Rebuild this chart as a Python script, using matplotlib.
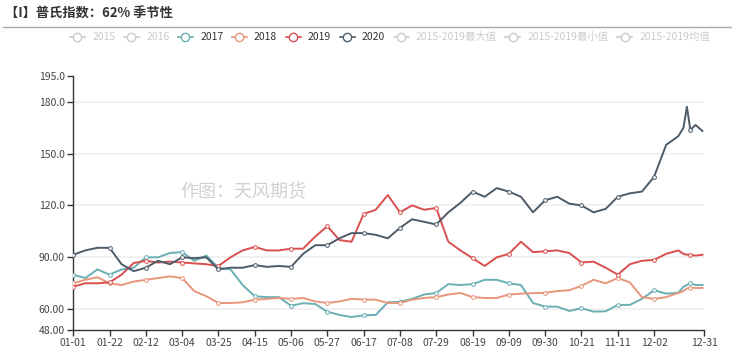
"""Seasonal chart of the Platts 62% iron ore index, 2017-2020."""

import matplotlib

matplotlib.use("Agg")
import matplotlib.pyplot as plt
import numpy as np
import pandas as pd
from matplotlib.lines import Line2D

plt.rcParams["font.family"] = ["Noto Sans CJK SC", "DejaVu Sans"]

# day of year (0 = 01-01), weekly samples plus a few extra near the year end
days = [0, 7, 14, 21, 28, 35, 42, 49, 56, 63, 70, 77, 84, 91, 98, 105, 112,
        119, 126, 133, 140, 147, 154, 161, 168, 175, 182, 189, 196, 203, 210,
        217, 224, 231, 238, 245, 252, 259, 266, 273, 280, 287, 294, 301, 308,
        315, 322, 329, 336, 343, 350, 353, 355, 357, 360, 364]

values_2017 = [80, 78, 83, 80, 83, 84, 90, 90, 92.5, 93, 88, 91, 84, 83, 74,
               67.5, 67, 67, 62, 63.5, 63, 58.6, 56.7, 55.5, 56.5, 56.7, 64,
               64.3, 66, 68.5, 69.4, 74.5, 74, 74.5, 77, 77, 75, 74, 63.6, 61.5,
               61.5, 59, 60.6, 58.6, 58.8, 62.5, 62.5, 66, 71, 69, 69.5, 73, 74,
               75, 74, 74]
values_2018 = [75, 77, 78.5, 75, 74, 76, 77, 78, 79, 78, 70.5, 67.5, 63.6, 63.6,
               64, 65.5, 66, 66.5, 66, 66.5, 64.5, 63.6, 64.5, 66, 65.6, 65.5,
               63.6, 63.6, 65.5, 66.5, 67, 68.5, 69.4, 67, 66.5, 66.5, 68.5, 69,
               69.3, 69.5, 70.5, 71, 73.5, 77, 75, 78, 75.5, 67, 66, 67, 69.4,
               70.5, 72, 72.3, 72.3, 72.3]
values_2019 = [73, 75, 75, 75.5, 80, 86.7, 88, 87, 87.5, 87, 86.5, 86, 85, 90,
               94, 96, 94, 94, 95, 95, 102, 108, 100, 99, 115, 117.5, 126, 116,
               120, 117.5, 118.5, 99, 94, 89.5, 85, 90, 92, 99, 93, 93.5, 94,
               92.5, 87, 87.5, 84, 80, 86, 88, 88.5, 92, 94, 92, 91.5, 91.5, 91,
               91.5]
values_2020 = [91.5, 94, 95.5, 95.5, 86, 82, 84, 88, 86, 90, 89.5, 90, 83, 84,
               84, 85.5, 84.5, 85, 84.5, 92, 97, 97, 101, 104, 104, 103, 101,
               107, 112, 110.5, 109, 116, 121.5, 128, 125, 130, 128, 125, 116,
               123, 125, 121, 120, 116, 118, 125, 127, 128, 136.5, 155, 160,
               164.8, 177, 163.6, 166.5, 163]

series_names = ["2017", "2018", "2019", "2020"]
series_colors = ["#6aafb4", "#e8967b", "#d94f4f", "#4d5b69"]
legend_labels = ["2015", "2016", "2017", "2018", "2019", "2020",
                 "2015-2019最大值", "2015-2019最小值", "2015-2019均值"]
active_labels = ["2017", "2018", "2019", "2020"]

tick_labels = ["01-01", "01-22", "02-12", "03-04", "03-25", "04-15", "05-06",
               "05-27", "06-17", "07-08", "07-29", "08-19", "09-09", "09-30",
               "10-21", "11-11", "12-02", "12-31"]
y_ticks = [48, 60, 90, 120, 150, 180, 195]
y_tick_labels = ["48.00", "60.00", "90.00", "120.0", "150.0", "180.0", "195.0"]


def main() -> None:
    fig = plt.figure(figsize=(7.32, 3.47), dpi=100)
    ax = fig.add_axes([0.1, 0.049, 0.862, 0.733])

    x = np.array(days)
    mark_idx = [i for i, d in enumerate(days) if d % 21 == 0]
    all_series = [values_2017, values_2018, values_2019, values_2020]
    for name, vals, color in zip(series_names, all_series, series_colors):
        ax.plot(x, vals, color=color, lw=1.4, marker="o", markersize=2.7,
                markerfacecolor="white", markeredgewidth=0.7,
                markevery=mark_idx, label=name, zorder=3)

    tick_days = [pd.Timestamp(f"2020-{t}").dayofyear - 1 for t in tick_labels]
    ax.set_xlim(0, 365)
    ax.set_xticks(tick_days, labels=tick_labels)
    ax.set_ylim(48, 195)
    ax.set_yticks(y_ticks, labels=y_tick_labels)

    for v in y_ticks[1:-1]:
        ax.axhline(v, color="#efefef", lw=1.2, zorder=1)

    for side in ["top", "right"]:
        ax.spines[side].set_visible(False)
    for side in ["left", "bottom"]:
        ax.spines[side].set_color("#333333")
        ax.spines[side].set_linewidth(1.0)
    ax.tick_params(axis="both", colors="#333333", labelsize=7.5, length=4,
                   width=1.0, pad=2)
    ax.tick_params(axis="both", labelcolor="#444444")

    # watermark
    ax.text(0.27, 0.54, "作图：天风期货", transform=ax.transAxes, fontsize=13,
            color="#d0d0d0", ha="center", va="center", zorder=2)

    # title and rule
    fig.text(0.007, 0.962, "【I】普氏指数：62% 季节性", fontsize=9.5,
             fontweight="bold", color="#333333", va="center")
    fig.add_artist(Line2D([0.004, 1.0], [0.923, 0.923],
                          transform=fig.transFigure, color="#aaaaaa", lw=1.0))

    # legend
    color_map = dict(zip(series_names, series_colors))
    handles = []
    for lab in legend_labels:
        c = color_map.get(lab, "#cccccc")
        handles.append(Line2D([], [], color=c, lw=1.2, marker="o",
                              markersize=6, markerfacecolor="white",
                              markeredgewidth=1.0))
    leg = fig.legend(handles, legend_labels, loc="center",
                     bbox_to_anchor=(0.533, 0.893), ncol=len(legend_labels),
                     frameon=False, fontsize=7.5, handlelength=1.45,
                     handletextpad=0.7, columnspacing=0.8)
    for txt in leg.get_texts():
        txt.set_color("#333333" if txt.get_text() in active_labels else "#cccccc")

    fig.savefig("out.png", dpi=100)
    plt.close(fig)


if __name__ == "__main__":
    main()
